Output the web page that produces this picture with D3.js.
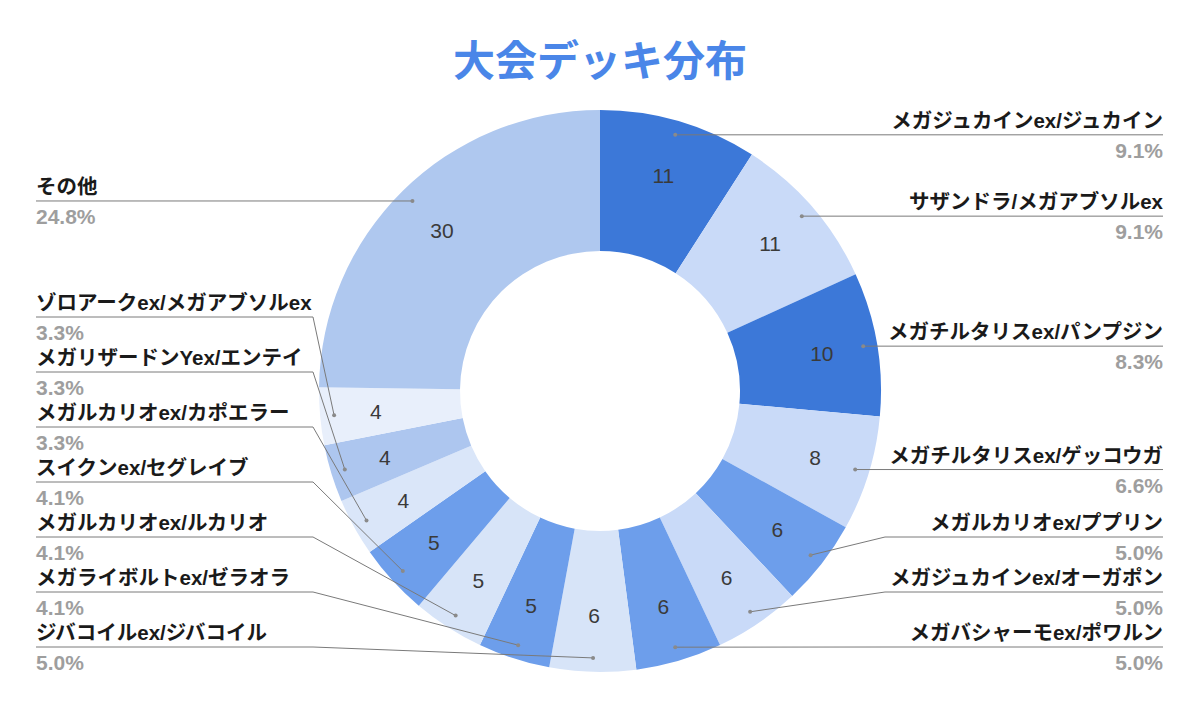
<!DOCTYPE html>
<html>
<head>
<meta charset="utf-8">
<script src="https://cdn.jsdelivr.net/npm/d3@7"></script>
<style>
  html, body { margin: 0; padding: 0; background: #ffffff; }
  svg { display: block; }
</style>
</head>
<body>
<svg id="chart" width="1200" height="709"></svg>
<script>
// ---- data ----
const categories = [
  "メガジュカインex/ジュカイン",
  "サザンドラ/メガアブソルex",
  "メガチルタリスex/パンプジン",
  "メガチルタリスex/ゲッコウガ",
  "メガルカリオex/ププリン",
  "メガジュカインex/オーガポン",
  "メガバシャーモex/ポワルン",
  "ジバコイルex/ジバコイル",
  "メガライボルトex/ゼラオラ",
  "メガルカリオex/ルカリオ",
  "スイクンex/セグレイブ",
  "メガルカリオex/カポエラー",
  "メガリザードンYex/エンテイ",
  "ゾロアークex/メガアブソルex",
  "その他"
];
const counts = [11, 11, 10, 8, 6, 6, 6, 6, 5, 5, 5, 4, 4, 4, 30];
const colors = [
  "#3c78d8", "#c9daf8", "#3c78d8", "#c9daf8", "#6d9eeb", "#c9daf8", "#6d9eeb",
  "#d7e4f8", "#6d9eeb", "#d7e4f8", "#6d9eeb", "#dae6f9", "#adc6ef", "#e8effb", "#afc8ef"
];
const title = "大会デッキ分布";

// ---- layout ----
const svg = d3.select("#chart");
const W = 1200, H = 709;
const cx = 600, cy = 391;
const outerR = 281, innerR = 140;
const dotR = 267, valueR = 225;
const rightTextX = 1163, leftTextX = 36;
const rightElbowX = 885, leftElbowX = 313;
const minGap = 55, maxLineY = 647;
const nameFont = "Arial, 'Liberation Sans', 'Noto Sans CJK JP', sans-serif";

svg.append("text")
  .attr("x", cx).attr("y", 76)
  .attr("text-anchor", "middle")
  .attr("font-family", "Arial, 'Liberation Sans', 'Noto Sans CJK JP', sans-serif")
  .attr("font-weight", "bold")
  .attr("font-size", 42)
  .attr("fill", "#4a86e8")
  .text(title);

const data = categories.map((c, i) => ({ name: c, value: counts[i], color: colors[i] }));
const total = d3.sum(counts);

const pie = d3.pie().value(d => d.value).sort(null);
const arcs = pie(data);
const arc = d3.arc().innerRadius(innerR).outerRadius(outerR);

const g = svg.append("g").attr("transform", `translate(${cx},${cy})`);

g.selectAll("path.slice")
  .data(arcs)
  .enter().append("path")
  .attr("class", "slice")
  .attr("d", arc)
  .attr("fill", d => d.data.color);

const valueArc = d3.arc().innerRadius(valueR).outerRadius(valueR);
g.selectAll("text.val")
  .data(arcs)
  .enter().append("text")
  .attr("class", "val")
  .attr("transform", d => `translate(${valueArc.centroid(d)})`)
  .attr("text-anchor", "middle")
  .attr("dy", "0.36em")
  .attr("font-family", "Arial, 'Liberation Sans', sans-serif")
  .attr("font-size", 21)
  .attr("fill", "#3a3a3a")
  .text(d => d.data.value);

// label placement
const dotArc = d3.arc().innerRadius(dotR).outerRadius(dotR);
const labels = arcs.map(d => {
  const [x, y] = dotArc.centroid(d);
  const mid = (d.startAngle + d.endAngle) / 2;
  return { d, dx: cx + x, dy: cy + y, right: mid < Math.PI, lineY: Math.min(cy + y, maxLineY) };
});
function resolve(list) {
  // list sorted bottom-to-top: push upward to keep spacing
  list.sort((a, b) => b.lineY - a.lineY);
  for (let i = 1; i < list.length; i++) {
    if (list[i].lineY > list[i - 1].lineY - minGap) list[i].lineY = list[i - 1].lineY - minGap;
  }
}
resolve(labels.filter(l => l.right));
resolve(labels.filter(l => !l.right));

const lg = svg.append("g");
labels.forEach(l => {
  const elbowX = l.right ? rightElbowX : leftElbowX;
  const endX = l.right ? rightTextX : leftTextX;
  lg.append("path")
    .attr("d", d3.line()([[l.dx, l.dy], [elbowX, l.lineY], [endX, l.lineY]]))
    .attr("fill", "none")
    .attr("stroke", "#7a7a7a")
    .attr("stroke-width", 1);
  lg.append("circle")
    .attr("cx", l.dx).attr("cy", l.dy).attr("r", 2)
    .attr("fill", "#8a8a8a");
  lg.append("text")
    .attr("x", endX).attr("y", l.lineY - 7)
    .attr("text-anchor", l.right ? "end" : "start")
    .attr("font-family", nameFont)
    .attr("font-weight", "bold")
    .attr("font-size", 20.5)
    .attr("fill", "#1a1a1a")
    .text(l.d.data.name);
  lg.append("text")
    .attr("x", endX).attr("y", l.lineY + 23)
    .attr("text-anchor", l.right ? "end" : "start")
    .attr("font-family", nameFont)
    .attr("font-weight", "bold")
    .attr("font-size", 21)
    .attr("fill", "#9e9e9e")
    .text(d3.format(".1%")(l.d.data.value / total));
});
</script>
</body>
</html>
